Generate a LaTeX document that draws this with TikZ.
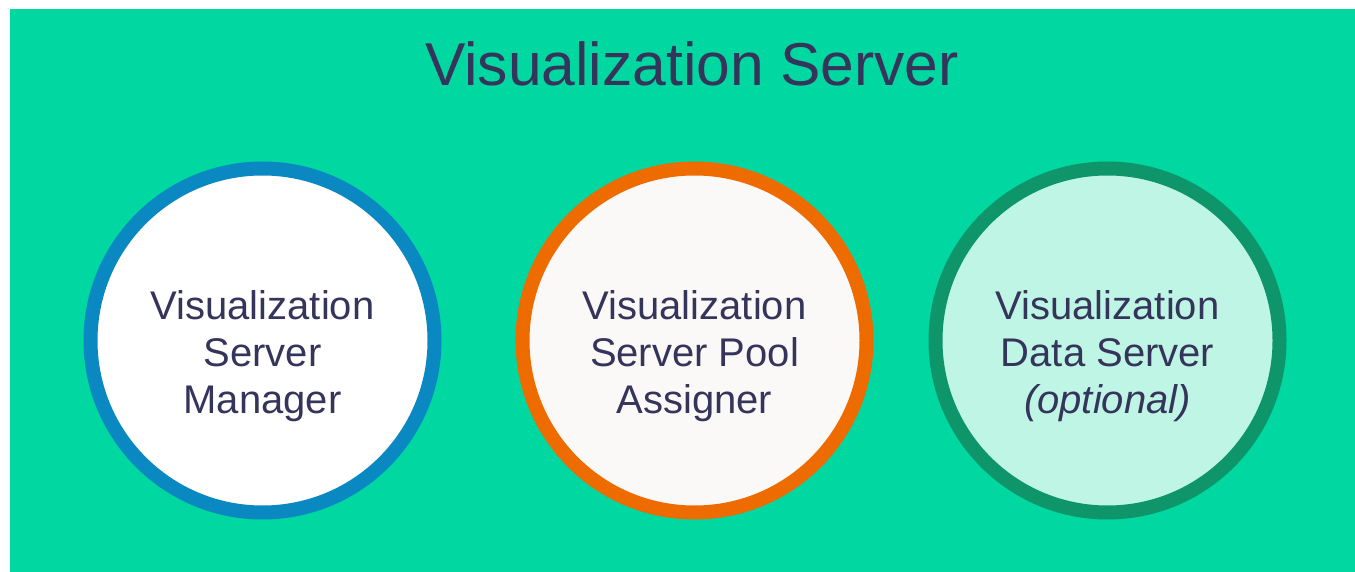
\documentclass[tikz,border=0pt]{standalone}
\usepackage{fontspec}
\setmainfont{Liberation Sans}
\definecolor{panelgreen}{HTML}{00D7A1}
\definecolor{ringblue}{HTML}{0A88C2}
\definecolor{ringorange}{HTML}{EE6B00}
\definecolor{ringgreen}{HTML}{0E956A}
\definecolor{fillpale}{HTML}{FBF9F7}
\definecolor{fillmint}{HTML}{BFF5E4}
\definecolor{inkblue}{HTML}{35345A}
\begin{document}
\begin{tikzpicture}[x=1pt,y=-1pt,
  part/.style={circle, draw, line width=14pt, minimum size=344pt, inner sep=0pt},
  partlabel/.style={align=center, text=inkblue, inner sep=0pt,
    font=\fontsize{40}{47}\selectfont},
  heading/.style={text=inkblue, font=\fontsize{60.5}{70}\selectfont, inner sep=0pt}]
  \useasboundingbox (0,0) rectangle (1355,572);
  \fill[panelgreen] (10,9) rectangle (1355,572);
  \node[heading] (title) at (692,64) {Visualization Server};
  % the three service circles
  \node[part, draw=ringblue, fill=white] (manager) at (262.5,340.5) {};
  \node[part, draw=ringorange, fill=fillpale] (assigner) at (694.5,340.5) {};
  \node[part, draw=ringgreen, fill=fillmint] (data) at (1107.5,340.5) {};
  % their captions, set a little below each centre
  \node[partlabel, yshift=-16pt] (managertext) at (manager.center)
    {Visualization\\Server\\Manager};
  \node[partlabel, yshift=-16pt] (assignertext) at (assigner.center)
    {Visualization\\Server Pool\\Assigner};
  \node[partlabel, yshift=-16pt] (datatext) at (data.center)
    {Visualization\\Data Server\\\textit{(optional)}};
\end{tikzpicture}
\end{document}
